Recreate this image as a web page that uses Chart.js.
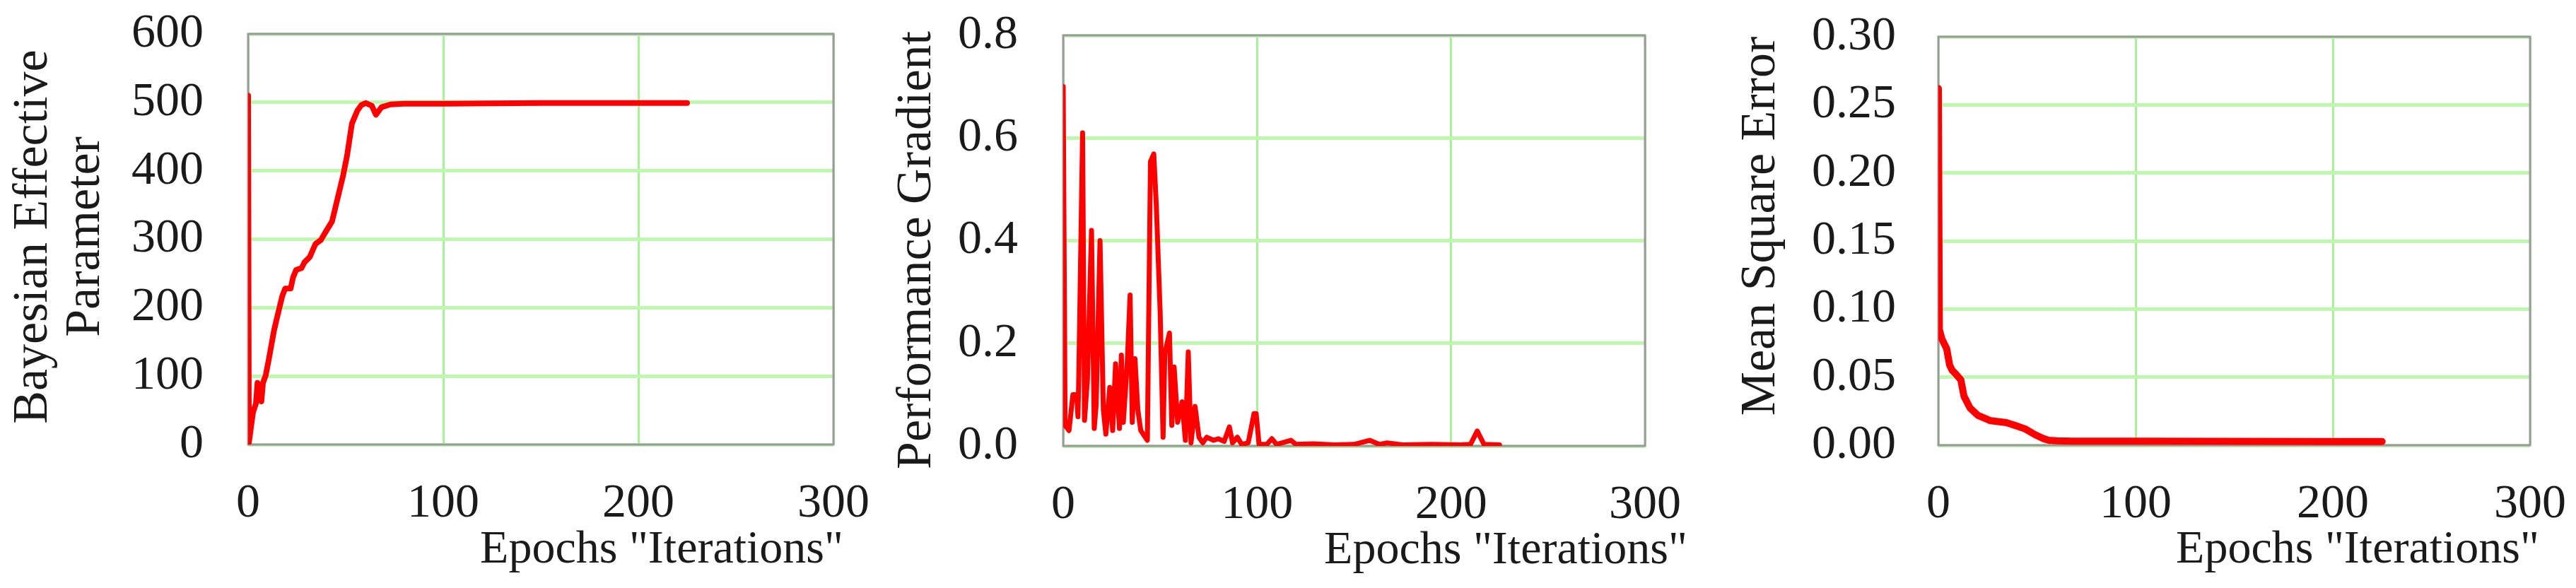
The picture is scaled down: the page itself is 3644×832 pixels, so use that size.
<!DOCTYPE html>
<html>
<head>
<meta charset="utf-8">
<script src="https://cdn.jsdelivr.net/npm/chart.js@4.4.1/dist/chart.umd.min.js"></script>
<style>
  body { margin: 0; background: #fff; width: 3644px; height: 832px; overflow: hidden; }
  .panel { position: absolute; top: 0; height: 832px; }
</style>
</head>
<body>
<div class="panel" style="left:0px"><canvas id="c1" width="1250" height="832"></canvas></div>
<div class="panel" style="left:1250px"><canvas id="c2" width="1170" height="832"></canvas></div>
<div class="panel" style="left:2420px"><canvas id="c3" width="1224" height="832"></canvas></div>
<script>
// Bayesian effective parameter vs epochs
const bepEpoch = [0, 0.4, 2.5, 4, 4.8, 6.8, 7.6, 9, 10.5, 13.3, 14.7, 17.5, 19, 21.8, 23, 24.6, 27.4, 28.8, 31.6, 34.5, 37.3, 40, 43, 45.8, 48.6, 50.7, 53.2, 56, 58, 60.3, 63.4, 65.5, 68.4, 73, 80, 100, 150, 200, 225];
const bepValue = [510, 3, 47, 60, 90, 63, 90, 101, 123, 167, 184, 217, 228, 228, 244, 255, 258, 266, 274, 293, 299, 312, 326, 359, 392, 422, 469, 488, 496, 499, 495, 482, 493, 497, 498, 498, 499, 499, 499];

// performance gradient vs epochs
const gradEpoch = [0, 1, 3, 5, 7, 7.6, 8, 10, 11, 12.5, 14.6, 16, 17, 19, 20.7, 22, 24, 25.5, 27, 29, 30, 31, 33, 34.5, 35.6, 37, 38.5, 40, 43.4, 45, 46.7, 48, 50, 51.5, 52.4, 54.8, 56, 57.2, 59, 61.3, 63, 64.5, 65.9, 68, 70, 72, 74, 77.5, 80, 83, 85.7, 87.3, 89.8, 92, 95.4, 98.4, 99.5, 101, 105, 107.6, 110, 117.4, 120, 129, 140, 150, 158, 163, 167, 175, 190, 205, 210, 213.5, 217, 225];
const gradValue = [0.70, 0.04, 0.03, 0.10, 0.10, 0.057, 0.126, 0.61, 0.05, 0.13, 0.42, 0.034, 0.08, 0.40, 0.07, 0.023, 0.114, 0.03, 0.16, 0.034, 0.177, 0.046, 0.16, 0.294, 0.046, 0.17, 0.07, 0.03, 0.011, 0.554, 0.569, 0.47, 0.26, 0.017, 0.18, 0.22, 0.04, 0.154, 0.046, 0.086, 0.011, 0.183, 0.006, 0.077, 0.017, 0.006, 0.017, 0.011, 0.014, 0.009, 0.037, 0.006, 0.017, 0.003, 0.006, 0.063, 0.063, 0.003, 0.003, 0.014, 0.003, 0.011, 0.003, 0.004, 0.002, 0.003, 0.011, 0.003, 0.006, 0.002, 0.003, 0.002, 0.003, 0.029, 0.003, 0.002];

// mean square error vs epochs
const mseEpoch = [0, 0.5, 1.8, 4.2, 5.7, 7, 9, 11.4, 13, 16, 20, 26.5, 34.5, 40, 44, 49, 53, 56, 60, 68, 100, 150, 200, 225];
const mseValue = [0.262, 0.085, 0.078, 0.071, 0.059, 0.055, 0.052, 0.048, 0.036, 0.0275, 0.022, 0.018, 0.0166, 0.014, 0.012, 0.0078, 0.005, 0.0036, 0.0032, 0.003, 0.003, 0.0028, 0.0027, 0.0027];

const xTicks = [0, 100, 200, 300];
const xTitle = 'Epochs "Iterations"';

const FONT = '"Liberation Serif", "Times New Roman", serif';
const TEXT = '#1a1a1a';

// grey box around the plot area, drawn under the line
const plotBox = {
  id: 'plotBox',
  beforeDatasetsDraw(chart) {
    const { ctx, chartArea: a } = chart;
    ctx.save();
    ctx.strokeStyle = '#9a9a9a';
    ctx.lineWidth = 3;
    ctx.strokeRect(a.left, a.top, a.right - a.left, a.bottom - a.top);
    ctx.restore();
  }
};

// axis titles (placed like the original figure)
const axisTitles = {
  id: 'axisTitles',
  afterDraw(chart, args, o) {
    const { ctx, chartArea } = chart;
    ctx.save();
    ctx.fillStyle = TEXT;
    ctx.textBaseline = 'middle';
    ctx.font = o.xSize + 'px ' + FONT;
    ctx.textAlign = 'right';
    ctx.fillText(xTitle, chartArea.right + o.xShift, o.xMid);
    ctx.font = o.ySize + 'px ' + FONT;
    ctx.textAlign = 'center';
    o.yLines.forEach((line, i) => {
      ctx.save();
      ctx.translate(o.yPos[i], o.yMid);
      ctx.rotate(-Math.PI / 2);
      ctx.fillText(line, 0, 0);
      ctx.restore();
    });
    ctx.restore();
  }
};

function makeChart(id, xs, ys, p) {
  const ctx = document.getElementById(id).getContext('2d');
  return new Chart(ctx, {
    type: 'line',
    data: {
      datasets: [{
        data: xs.map((x, i) => ({ x: x, y: ys[i] })),
        borderColor: '#ff0000',
        borderWidth: p.lineWidth,
        pointRadius: 0,
        tension: 0,
        borderJoinStyle: 'round',
        borderCapStyle: 'round'
      }]
    },
    options: {
      responsive: false,
      animation: false,
      layout: { padding: { top: p.top, right: p.right, left: 0, bottom: 0 } },
      plugins: {
        legend: { display: false },
        tooltip: { enabled: false },
        axisTitles: p.titles
      },
      scales: {
        x: {
          type: 'linear',
          min: 0,
          max: 300,
          afterBuildTicks: s => { s.ticks = xTicks.map(v => ({ value: v })); },
          // fixed plot box: no extra padding for the tick labels
          afterFit: s => {
            s.height = 832 - p.bottom;
            s.paddingLeft = 0;
            s.paddingRight = 0;
          },
          grid: { color: '#a6f396', lineWidth: 3, drawTicks: false },
          border: { display: false },
          ticks: { padding: 43, color: TEXT, font: { family: FONT, size: 68 } }
        },
        y: {
          min: 0,
          max: p.yMax,
          afterBuildTicks: s => { s.ticks = p.yTicks.map(v => ({ value: v })); },
          afterFit: s => {
            s.width = p.left;
            s.paddingTop = 0;
            s.paddingBottom = 0;
          },
          grid: { color: '#bdf8ae', lineWidth: 5, drawTicks: false },
          border: { display: false },
          ticks: {
            padding: p.tickPad,
            color: TEXT,
            font: { family: FONT, size: 68 },
            callback: v => v.toFixed(p.decimals)
          }
        }
      }
    },
    plugins: [plotBox, axisTitles]
  });
}

makeChart('c1', bepEpoch, bepValue, {
  left: 351, right: 71, top: 48, bottom: 629, lineWidth: 8, tickPad: 63,
  yMax: 600, yTicks: [0, 100, 200, 300, 400, 500, 600], decimals: 0,
  titles: { xSize: 66, xShift: 14, xMid: 779, ySize: 70,
            yLines: ['Bayesian Effective', 'Parameter'], yPos: [48, 122], yMid: 335 }
});

makeChart('c2', gradEpoch, gradValue, {
  left: 254, right: 93, top: 50, bottom: 631, lineWidth: 7, tickPad: 64,
  yMax: 0.8, yTicks: [0, 0.2, 0.4, 0.6, 0.8], decimals: 1,
  titles: { xSize: 66, xShift: 60, xMid: 780, ySize: 70,
            yLines: ['Performance Gradient'], yPos: [48], yMid: 354 }
});

makeChart('c3', mseEpoch, mseValue, {
  left: 322, right: 65, top: 52, bottom: 630, lineWidth: 10, tickPad: 60,
  yMax: 0.3, yTicks: [0, 0.05, 0.1, 0.15, 0.2, 0.25, 0.3], decimals: 2,
  titles: { xSize: 66, xShift: 13, xMid: 779, ySize: 70,
            yLines: ['Mean Square Error'], yPos: [72], yMid: 320 }
});
</script>
</body>
</html>
